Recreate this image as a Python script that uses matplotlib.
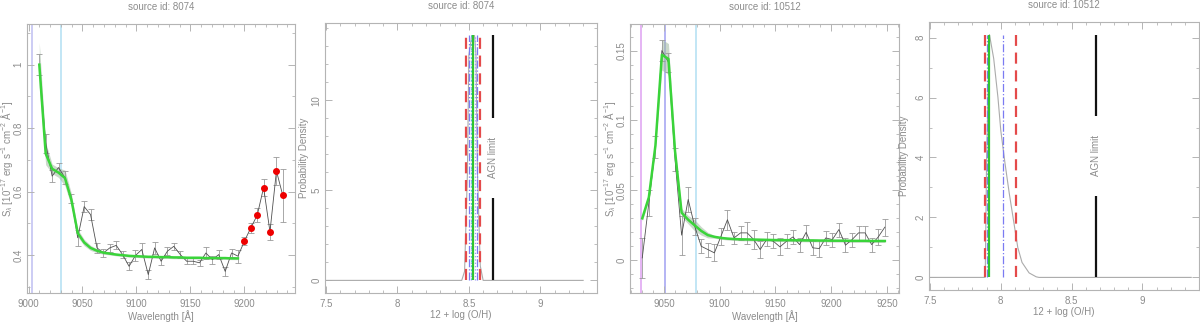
import numpy as np
import matplotlib.pyplot as plt
from matplotlib.ticker import MultipleLocator, FuncFormatter

plt.rcParams['font.family'] = ['Liberation Sans', 'DejaVu Sans']
plt.rcParams['mathtext.fontset'] = 'custom'
plt.rcParams['mathtext.rm'] = 'Liberation Sans'
plt.rcParams['mathtext.it'] = 'Liberation Sans:italic'
GREY = '#8c8c8c'
SPINE = '#b4b4b4'

# ---- source 8074: spectrum
wave_a = [9010.0, 9015.9, 9021.9, 9027.8, 9033.8, 9039.7, 9045.6, 9051.6, 9057.5, 9063.5,
          9069.4, 9075.3, 9081.3, 9087.2, 9093.2, 9099.1, 9105.0, 9111.0, 9116.9, 9122.9,
          9128.8, 9134.7, 9140.7, 9146.6, 9152.6, 9158.5, 9164.4, 9170.4, 9176.3, 9182.3,
          9188.2, 9194.1, 9200.1, 9206.0, 9212.0, 9217.9, 9223.8, 9229.8, 9235.7]
flux_a = [1.00, 0.753, 0.649, 0.676, 0.644, 0.578, 0.455, 0.553, 0.528, 0.423,
          0.407, 0.423, 0.431, 0.402, 0.365, 0.399, 0.418, 0.339, 0.423, 0.381,
          0.413, 0.428, 0.402, 0.381, 0.381, 0.376, 0.407, 0.386, 0.402, 0.349,
          0.407, 0.397, 0.444, 0.486, 0.526, 0.613, 0.474, 0.665, 0.588]
err_a = [0.034, 0.03, 0.02, 0.013, 0.02, 0.015, 0.025, 0.018, 0.018, 0.015,
         0.012, 0.012, 0.013, 0.012, 0.013, 0.018, 0.02, 0.015, 0.018, 0.012,
         0.012, 0.012, 0.01, 0.01, 0.01, 0.01, 0.02, 0.013, 0.015, 0.015,
         0.013, 0.02, 0.013, 0.015, 0.023, 0.027, 0.025, 0.043, 0.083]
n_fit_a = 32
fit_a = [1.00, 0.72, 0.672, 0.66, 0.643, 0.575, 0.47, 0.44, 0.423, 0.414,
         0.408, 0.405, 0.402, 0.400, 0.398, 0.397, 0.396, 0.395, 0.395, 0.394,
         0.394, 0.393, 0.393, 0.392, 0.392, 0.392, 0.391, 0.391, 0.391, 0.391,
         0.390, 0.390]
band_a = [0.07, 0.035, 0.015, 0.015, 0.025, 0.02, 0.012, 0.01, 0.008, 0.006,
          0.005, 0.004, 0.004, 0.004, 0.004, 0.004, 0.004, 0.004, 0.004, 0.004,
          0.004, 0.004, 0.004, 0.004, 0.004, 0.004, 0.004, 0.004, 0.004, 0.004,
          0.004, 0.004]
vlines_a = [9003.0, 9029.8]
vcolors_a = ['#c4c4f2', '#b8e2f4']

# ---- source 8074: metallicity PDF
oh_a = [7.5, 8.45, 8.47, 8.49, 8.50, 8.52, 8.54, 8.55, 8.56, 8.58, 8.60, 9.3]
pdf_a = [0, 0, 0.5, 6.0, 12.5, 13.6, 13.6, 12.5, 6.0, 0.8, 0, 0]
pdf_top_a = 13.65
marks_a = [(8.481, '#e44a4a', (0, (5, 3)), 1.6),
           (8.575, '#e44a4a', (0, (5, 3)), 1.6),
           (8.498, '#7b7bf2', '-.', 0.9),
           (8.556, '#7b7bf2', '-.', 0.9),
           (8.512, '#9a9af5', ':', 0.9),
           (8.543, '#9a9af5', ':', 0.9),
           (8.52, '#40c8d8', ':', 1.2),
           (8.527, '#2fc42f', '-', 1.6)]
agn_a = [(0, 4.6), (9.0, 13.65)]
agn_text_a = 6.85

# ---- source 10512: spectrum
wave_b = [9030.5, 9036.4, 9042.3, 9048.1, 9054.0, 9059.9, 9065.8, 9071.7, 9077.5, 9083.4,
          9089.3, 9095.2, 9101.1, 9106.9, 9112.8, 9118.7, 9124.6, 9130.5, 9136.3, 9142.2,
          9148.1, 9154.0, 9159.9, 9165.7, 9171.6, 9177.5, 9183.4, 9189.3, 9195.1, 9201.0,
          9206.9, 9212.8, 9218.7, 9224.5, 9230.4, 9236.3, 9242.2, 9248.1]
flux_b = [0.0017, 0.041, 0.081, 0.150, 0.1416, 0.072, 0.018, 0.0435, 0.0244, 0.010,
          0.0077, 0.0053, 0.0172, 0.029, 0.016, 0.0196, 0.0196, 0.0148, 0.0077, 0.015,
          0.0136, 0.0096, 0.0136, 0.0167, 0.0112, 0.020, 0.0089, 0.0084, 0.016, 0.0148,
          0.022, 0.0108, 0.0148, 0.0196, 0.0196, 0.0112, 0.0167, 0.0237]
err_b = [0.0145, 0.009, 0.008, 0.0075, 0.007, 0.008, 0.014, 0.009, 0.006, 0.005,
         0.005, 0.006, 0.006, 0.007, 0.004, 0.005, 0.008, 0.007, 0.006, 0.005,
         0.005, 0.006, 0.005, 0.005, 0.005, 0.005, 0.005, 0.006, 0.005, 0.005,
         0.005, 0.005, 0.005, 0.005, 0.005, 0.005, 0.006, 0.006]
fit_b = [0.030, 0.045, 0.082, 0.147, 0.144, 0.078, 0.034, 0.029, 0.025, 0.021,
         0.018, 0.0168, 0.016, 0.0155, 0.0152, 0.015, 0.0149, 0.0148, 0.0147, 0.0146,
         0.0145, 0.0144, 0.0144, 0.0143, 0.0143, 0.0142, 0.0142, 0.0141, 0.0141, 0.014,
         0.014, 0.014, 0.0139, 0.0139, 0.0139, 0.0138, 0.0138, 0.0138]
band_b = [0.002, 0.002, 0.002, 0.011, 0.011, 0.003, 0.003, 0.003, 0.004, 0.003,
          0.002, 0.001, 0.001, 0.001, 0.001, 0.001, 0.001, 0.001, 0.001, 0.001,
          0.001, 0.001, 0.001, 0.001, 0.001, 0.001, 0.001, 0.001, 0.001, 0.001,
          0.001, 0.001, 0.001, 0.001, 0.001, 0.001, 0.001, 0.001]
vlines_b = [9029.0, 9050.6, 9079.0]
vcolors_b = ['#e0a8f2', '#a8a8f2', '#b8e2f4']

# ---- source 10512: metallicity PDF
oh_b = [7.5, 7.89, 7.90, 7.92, 7.95, 7.98, 8.0, 8.03, 8.06, 8.09, 8.12, 8.15, 8.2, 8.25, 8.27, 9.345]
pdf_b = [0, 0, 4.0, 8.1, 7.3, 6.0, 4.9, 3.8, 2.8, 1.9, 1.0, 0.5, 0.15, 0.02, 0, 0]
pdf_top_b = 8.1
marks_b = [(7.89, '#e44a4a', (0, (5, 3)), 1.6),
           (8.11, '#e44a4a', (0, (5, 3)), 1.6),
           (7.905, '#7b7bf2', '-.', 0.9),
           (8.015, '#7b7bf2', '-.', 0.9),
           (7.92, '#2fc42f', '-', 1.6)]
agn_b = [(0, 2.7), (5.4, 8.1)]
agn_text_b = 4.05
AGN_LIMIT = 8.67

SLAMBDA = r'S$_\lambda$ [10$^{-17}$ erg s$^{-1}$ cm$^{-2}$ Å$^{-1}$]'


def fmt(v, pos):
    return '%g' % round(v, 6)


def style(ax, xmaj, xmin, ymaj, ymin):
    ax.xaxis.set_major_locator(MultipleLocator(xmaj))
    ax.xaxis.set_minor_locator(MultipleLocator(xmin))
    ax.yaxis.set_major_locator(MultipleLocator(ymaj))
    ax.yaxis.set_minor_locator(MultipleLocator(ymin))
    ax.xaxis.set_major_formatter(FuncFormatter(fmt))
    ax.yaxis.set_major_formatter(FuncFormatter(fmt))
    for s in ax.spines.values():
        s.set_color(SPINE)
        s.set_linewidth(0.8)
    ax.tick_params(which='both', direction='in', top=True, right=True,
                   color=SPINE, labelcolor=GREY, labelsize=7)
    ax.tick_params(axis='x', pad=4)
    ax.tick_params(axis='y', pad=2.5, labelrotation=90)
    ax.tick_params(which='major', length=5, width=0.7)
    ax.tick_params(which='minor', length=2.5, width=0.6)
    for lab in ax.get_yticklabels():
        lab.set_va('center')
    ax.xaxis.set_label_coords(0.5, -0.062)


def spectrum(ax, title, wave, flux, err, nfit, fit, band, vl, vc, red_from=None):
    for x, c in zip(vl, vc):
        ax.axvline(x, color=c, lw=1.2, zorder=1)
    w = np.array(wave)
    f = np.array(fit)
    b = np.array(band)
    ax.fill_between(w[:nfit], f - b, f + b, color='#9fb89f', alpha=0.55, lw=0, zorder=2)
    ax.errorbar(wave, flux, yerr=err, color='#505050', lw=0.6, ecolor='#9a9a9a',
                elinewidth=0.6, capsize=2.2, capthick=0.6, zorder=3)
    ax.plot(w[:nfit], f, color='#3ad43a', lw=1.8, zorder=4)
    if red_from is not None:
        ax.plot(wave[red_from:], flux[red_from:], 'o', color='#ee0000', ms=4, zorder=5)
    ax.set_title(title, fontsize=7, color=GREY, pad=10)
    ax.set_xlabel('Wavelength [Å]', fontsize=7, color=GREY)
    ax.set_ylabel(SLAMBDA, fontsize=7, color=GREY)
    ax.yaxis.set_label_coords(-0.045, 0.5)


def pdf_panel(ax, title, oh, pdf, top, marks, agn, agn_y, label_x):
    ax.plot(oh, pdf, color='#ababab', lw=0.8, zorder=2)
    for x, c, ls, lw in marks:
        ax.vlines(x, 0, top, colors=c, linestyles=ls, lw=lw, zorder=3)
    for y0, y1 in agn:
        ax.vlines(AGN_LIMIT, y0, y1, colors='#111111', lw=1.6, zorder=3)
    ax.text(AGN_LIMIT, agn_y, 'AGN limit', rotation=90, ha='center', va='center',
            fontsize=7, color=GREY)
    ax.set_title(title, fontsize=7, color=GREY, pad=10)
    ax.set_xlabel('12 + log (O/H)', fontsize=7, color=GREY)
    ax.set_ylabel('Probability Density', fontsize=7, color=GREY)
    ax.yaxis.set_label_coords(label_x, 0.5)


fig = plt.figure(figsize=(12, 3.22), dpi=100)
H = 322.0
W = 1200.0


def add(l, r, t, b):
    return fig.add_axes([l / W, (H - b) / H, (r - l) / W, (b - t) / H])


ax1 = add(27, 295, 24, 293)
ax2 = add(325, 597, 23, 293)
ax3 = add(630, 899, 24, 293)
ax4 = add(929, 1199, 22, 290)

spectrum(ax1, 'source id: 8074', wave_a, flux_a, err_a, n_fit_a, fit_a, band_a,
         vlines_a, vcolors_a, red_from=n_fit_a)
ax1.set_xlim(8998.6, 9247)
ax1.set_ylim(0.281, 1.128)
style(ax1, 50, 10, 0.2, 0.1)

pdf_panel(ax2, 'source id: 8074', oh_a, pdf_a, pdf_top_a, marks_a, agn_a, agn_text_a, -0.06)
ax2.set_xlim(7.493, 9.397)
ax2.set_ylim(-0.70, 14.3)
style(ax2, 0.5, 0.1, 5, 1)

spectrum(ax3, 'source id: 10512', wave_b, flux_b, err_b, len(fit_b), fit_b, band_b,
         vlines_b, vcolors_b)
ax3.set_xlim(9019.5, 9260.8)
ax3.set_ylim(-0.0234, 0.169)
style(ax3, 50, 10, 0.05, 0.01)

pdf_panel(ax4, 'source id: 10512', oh_b, pdf_b, pdf_top_b, marks_b, agn_b, agn_text_b, -0.075)
ax4.set_xlim(7.493, 9.40)
ax4.set_ylim(-0.42, 8.52)
style(ax4, 0.5, 0.1, 2, 1)

fig.savefig('out.png', dpi=100)
